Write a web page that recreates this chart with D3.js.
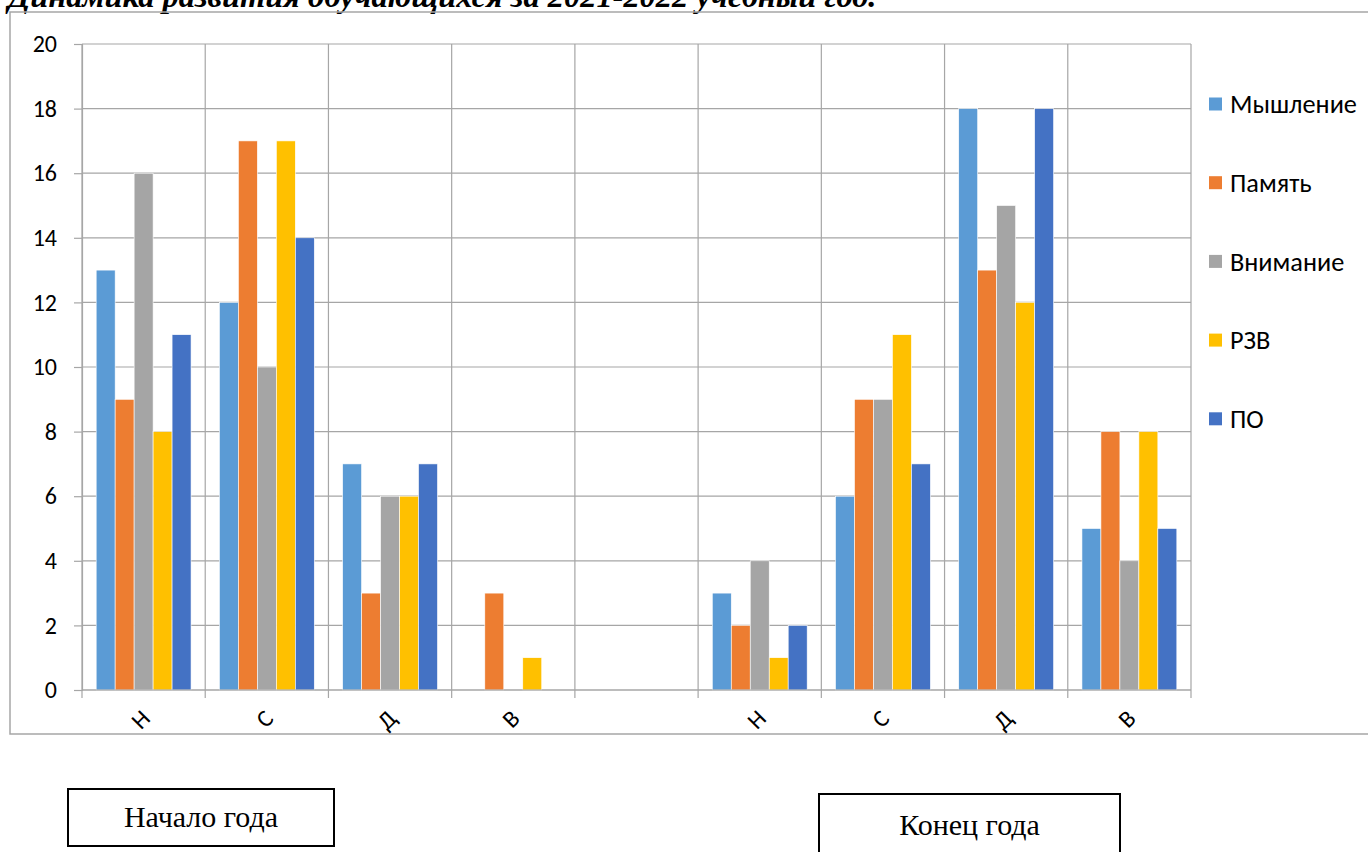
<!DOCTYPE html>
<html>
<head>
<meta charset="utf-8">
<script src="https://cdn.jsdelivr.net/npm/d3@7"></script>
<style>
  html, body { margin: 0; padding: 0; background: #fff; }
  svg { display: block; }
</style>
</head>
<body>
<svg id="chart" width="1368" height="852"></svg>
<script>
// ---- Data ----
const categories = ["Н", "С", "Д", "В", "", "Н", "С", "Д", "В"];
const seriesNames = ["Мышление", "Память", "Внимание", "РЗВ", "ПО"];
const seriesColors = ["#5B9BD5", "#ED7D31", "#A5A5A5", "#FFC000", "#4472C4"];
const мышление = [13, 12, 7, 0, null, 3, 6, 18, 5];
const память   = [9, 17, 3, 3, null, 2, 9, 13, 8];
const внимание = [16, 10, 6, 0, null, 4, 9, 15, 4];
const рзв      = [8, 17, 6, 1, null, 1, 11, 12, 8];
const по       = [11, 14, 7, 0, null, 2, 7, 18, 5];
const seriesValues = [мышление, память, внимание, рзв, по];
const yTicks = [0, 2, 4, 6, 8, 10, 12, 14, 16, 18, 20];
const titleText = "Динамика развития обучающихся за 2021-2022 учебный год.";
const boxLabels = ["Начало года", "Конец года"];

// ---- Layout ----
const svg = d3.select("#chart");
const plot = { left: 82, right: 1191, top: 44, bottom: 690 };
const gridColor = "#A6A6A6";
const sans = "Carlito, 'Open Sans', 'Noto Sans', sans-serif";

const x = d3.scaleBand()
  .domain(categories.map((d, i) => i))
  .range([plot.left, plot.right])
  .paddingInner(0).paddingOuter(0);

const groupPad = x.bandwidth() * 0.115;
const xs = d3.scaleBand()
  .domain(seriesNames.map((d, i) => i))
  .range([groupPad, x.bandwidth() - groupPad])
  .padding(0);

const y = d3.scaleLinear().domain([0, 20]).range([plot.bottom, plot.top]);

// Title (cut at top, as in the reference)
const title = svg.append("text")
  .attr("x", 8).attr("y", 7)
  .attr("font-family", "Liberation Serif, 'DejaVu Serif', serif")
  .attr("font-weight", "bold").attr("font-style", "italic")
  .attr("font-size", 28)
  .attr("fill", "#000")
  .text(titleText);
const tl = title.node().getComputedTextLength();
title.attr("font-size", 28 * 869 / tl);

// Outer chart border
svg.append("rect")
  .attr("x", 10).attr("y", 12)
  .attr("width", 1368).attr("height", 734 - 12)
  .attr("fill", "none").attr("stroke", gridColor).attr("stroke-width", 1.5);

// Horizontal gridlines
svg.append("g").selectAll("line").data(yTicks).join("line")
  .attr("x1", plot.left).attr("x2", plot.right)
  .attr("y1", d => y(d)).attr("y2", d => y(d))
  .attr("stroke", gridColor).attr("stroke-width", 1.2);

// Vertical gridlines (category boundaries)
const bounds = categories.map((d, i) => x(i)).concat([plot.right]);
svg.append("g").selectAll("line").data(bounds).join("line")
  .attr("x1", d => d).attr("x2", d => d)
  .attr("y1", plot.top).attr("y2", plot.bottom + 8)
  .attr("stroke", gridColor).attr("stroke-width", 1.2);

// Y axis
const yAxis = d3.axisLeft(y).tickValues(yTicks).tickSize(8).tickPadding(17);
const yg = svg.append("g").attr("transform", `translate(${plot.left},0)`).call(yAxis);
yg.select(".domain").attr("stroke", gridColor).attr("stroke-width", 1.2);
yg.selectAll(".tick line").attr("stroke", gridColor).attr("stroke-width", 1.2);
yg.selectAll(".tick text")
  .attr("font-family", sans)
  .attr("font-size", 24).attr("fill", "#000");

// Bars
const groups = svg.append("g").selectAll("g").data(categories.map((c, i) => i)).join("g")
  .attr("transform", i => `translate(${x(i)},0)`);
groups.selectAll("rect")
  .data(i => seriesValues.map((vals, s) => ({ s, v: vals[i] })).filter(d => d.v != null && d.v > 0))
  .join("rect")
  .attr("x", d => xs(d.s))
  .attr("width", xs.bandwidth())
  .attr("y", d => y(d.v))
  .attr("height", d => y(0) - y(d.v))
  .attr("fill", d => seriesColors[d.s])
  .attr("stroke", "#fff").attr("stroke-width", 0.6);

// Bottom axis line on top of bars
svg.append("line")
  .attr("x1", plot.left).attr("x2", plot.right)
  .attr("y1", y(0)).attr("y2", y(0))
  .attr("stroke", gridColor).attr("stroke-width", 1.2);

// X labels rotated
svg.append("g").selectAll("text").data(categories.map((c, i) => i)).join("text")
  .attr("transform", i => `translate(${x(i) + x.bandwidth() / 2 + 2},714) rotate(-45)`)
  .attr("text-anchor", "end").attr("dy", "0.35em")
  .attr("font-family", sans)
  .attr("font-size", 24).attr("fill", "#000")
  .text(i => categories[i]);

// Legend
const legend = svg.append("g").selectAll("g").data(seriesNames).join("g")
  .attr("transform", (d, i) => `translate(1209,${104 + i * 78.7})`);
legend.append("rect")
  .attr("x", 0).attr("y", -6.5).attr("width", 13).attr("height", 13)
  .attr("fill", (d, i) => seriesColors[i]);
const lt = legend.append("text")
  .attr("x", 21).attr("y", 0).attr("dy", "0.35em")
  .attr("font-family", sans)
  .attr("font-size", 21).attr("fill", "#000")
  .text(d => d);
// fit "Мышление" to the reference width (~127px)
const lw = lt.node().getComputedTextLength();
lt.attr("font-size", 21 * 127 / lw);

// Boxes
const boxes = [
  { x: 68, y: 789, w: 266, h: 57, label: boxLabels[0], ty: 827 },
  { x: 819, y: 794, w: 301, h: 70, label: boxLabels[1], ty: 835 }
];
const bg = svg.append("g").selectAll("g").data(boxes).join("g");
bg.append("rect")
  .attr("x", d => d.x).attr("y", d => d.y).attr("width", d => d.w).attr("height", d => d.h)
  .attr("fill", "#fff").attr("stroke", "#000").attr("stroke-width", 2);
bg.append("text")
  .attr("x", d => d.x + d.w / 2).attr("y", d => d.ty)
  .attr("text-anchor", "middle")
  .attr("font-family", "Liberation Serif, 'DejaVu Serif', serif")
  .attr("font-size", 30).attr("fill", "#000")
  .text(d => d.label);
</script>
</body>
</html>
